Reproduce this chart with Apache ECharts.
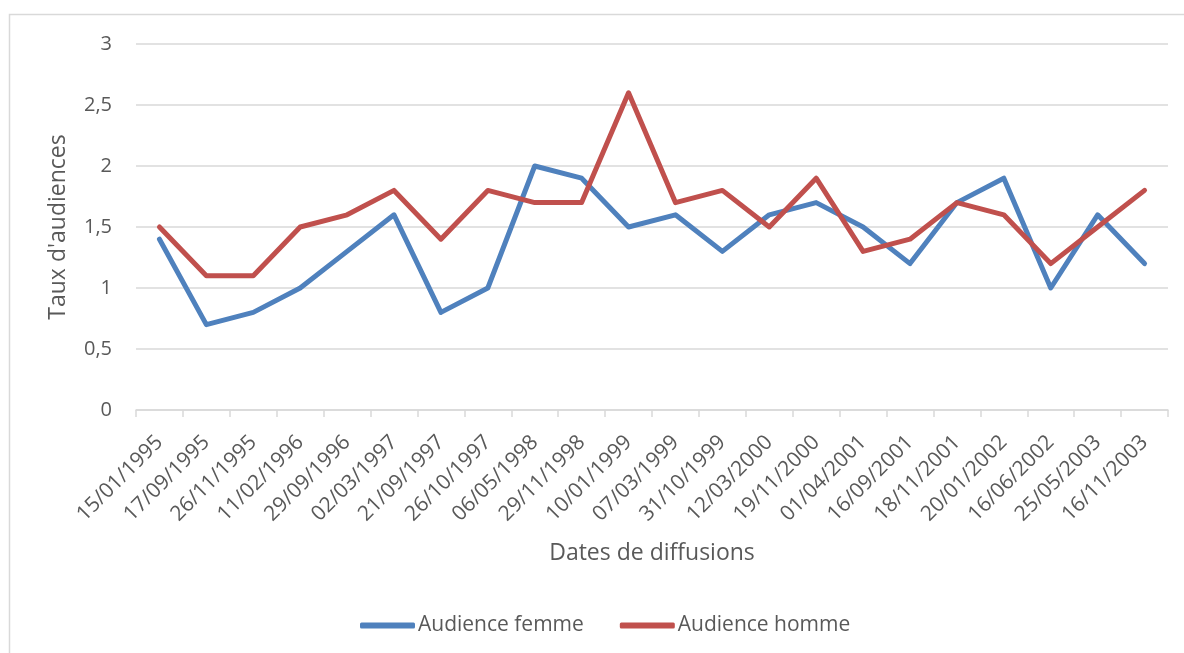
<!DOCTYPE html>
<html>
<head>
<meta charset="utf-8">
<script src="https://cdn.jsdelivr.net/npm/echarts@6/dist/echarts.min.js"></script>
<style>
  html, body { margin: 0; padding: 0; background: #fff; }
  #chart { width: 1184px; height: 653px; }
</style>
</head>
<body>
<div id="chart"></div>
<script>
const dates = ['15/01/1995', '17/09/1995', '26/11/1995', '11/02/1996', '29/09/1996', '02/03/1997',
    '21/09/1997', '26/10/1997', '06/05/1998', '29/11/1998', '10/01/1999', '07/03/1999',
    '31/10/1999', '12/03/2000', '19/11/2000', '01/04/2001', '16/09/2001', '18/11/2001',
    '20/01/2002', '16/06/2002', '25/05/2003', '16/11/2003'];

const audienceFemme = [1.4, 0.7, 0.8, 1.0, 1.3, 1.6, 0.8, 1.0, 2.0, 1.9, 1.5, 1.6,
    1.3, 1.6, 1.7, 1.5, 1.2, 1.7, 1.9, 1.0, 1.6, 1.2];

const audienceHomme = [1.5, 1.1, 1.1, 1.5, 1.6, 1.8, 1.4, 1.8, 1.7, 1.7, 2.6, 1.7,
    1.8, 1.5, 1.9, 1.3, 1.4, 1.7, 1.6, 1.2, 1.5, 1.8];

const textColor = '#595959';
const gridColor = '#d9d9d9';
const font = '"Open Sans", "Noto Sans", sans-serif';

const chart = echarts.init(document.getElementById('chart'));

const fmt = v => String(v).replace('.', ',');

chart.setOption({
    animation: false,
    textStyle: { fontFamily: font, color: textColor },
    graphic: [{
        type: 'rect',
        shape: { x: 9.5, y: 14.5, width: 1300, height: 800 },
        style: { fill: 'none', stroke: gridColor, lineWidth: 1.5 },
        silent: true
    }],
    grid: { left: 136, right: 16, top: 44, bottom: 243 },
    legend: {
        bottom: 12,
        left: 355,
        itemWidth: 55,
        itemHeight: 6,
        itemGap: 36,
        icon: 'roundRect',
        textStyle: { fontSize: 21, color: textColor, fontFamily: font, padding: [0, 0, 0, -2] },
        data: ['Audience femme', 'Audience homme']
    },
    xAxis: {
        type: 'category',
        data: dates,
        boundaryGap: true,
        name: 'Dates de diffusions',
        nameLocation: 'middle',
        nameGap: 132,
        nameTextStyle: { fontSize: 23, color: textColor, fontFamily: font },
        axisLine: { lineStyle: { color: gridColor, width: 1.5 } },
        axisTick: { show: true, length: 7, lineStyle: { color: gridColor, width: 1.5 } },
        axisLabel: {
            rotate: 45,
            interval: 0,
            fontSize: 21,
            color: textColor,
            fontFamily: font,
            margin: 29
        }
    },
    yAxis: {
        type: 'value',
        min: 0,
        max: 3,
        interval: 0.5,
        name: "Taux d'audiences",
        nameLocation: 'middle',
        nameGap: 66,
        nameTextStyle: { fontSize: 23, color: textColor, fontFamily: font },
        axisLine: { show: false },
        axisTick: { show: false },
        splitLine: { lineStyle: { color: gridColor, width: 1.5 } },
        axisLabel: {
            fontSize: 20,
            color: textColor,
            fontFamily: font,
            margin: 24,
            formatter: fmt
        }
    },
    series: [
        {
            name: 'Audience femme',
            type: 'line',
            data: audienceFemme,
            symbol: 'none',
            lineStyle: { color: '#4F81BD', width: 5, cap: 'round', join: 'round' },
            itemStyle: { color: '#4F81BD' }
        },
        {
            name: 'Audience homme',
            type: 'line',
            data: audienceHomme,
            symbol: 'none',
            lineStyle: { color: '#C0504D', width: 5, cap: 'round', join: 'round' },
            itemStyle: { color: '#C0504D' }
        }
    ]
});
</script>
</body>
</html>
